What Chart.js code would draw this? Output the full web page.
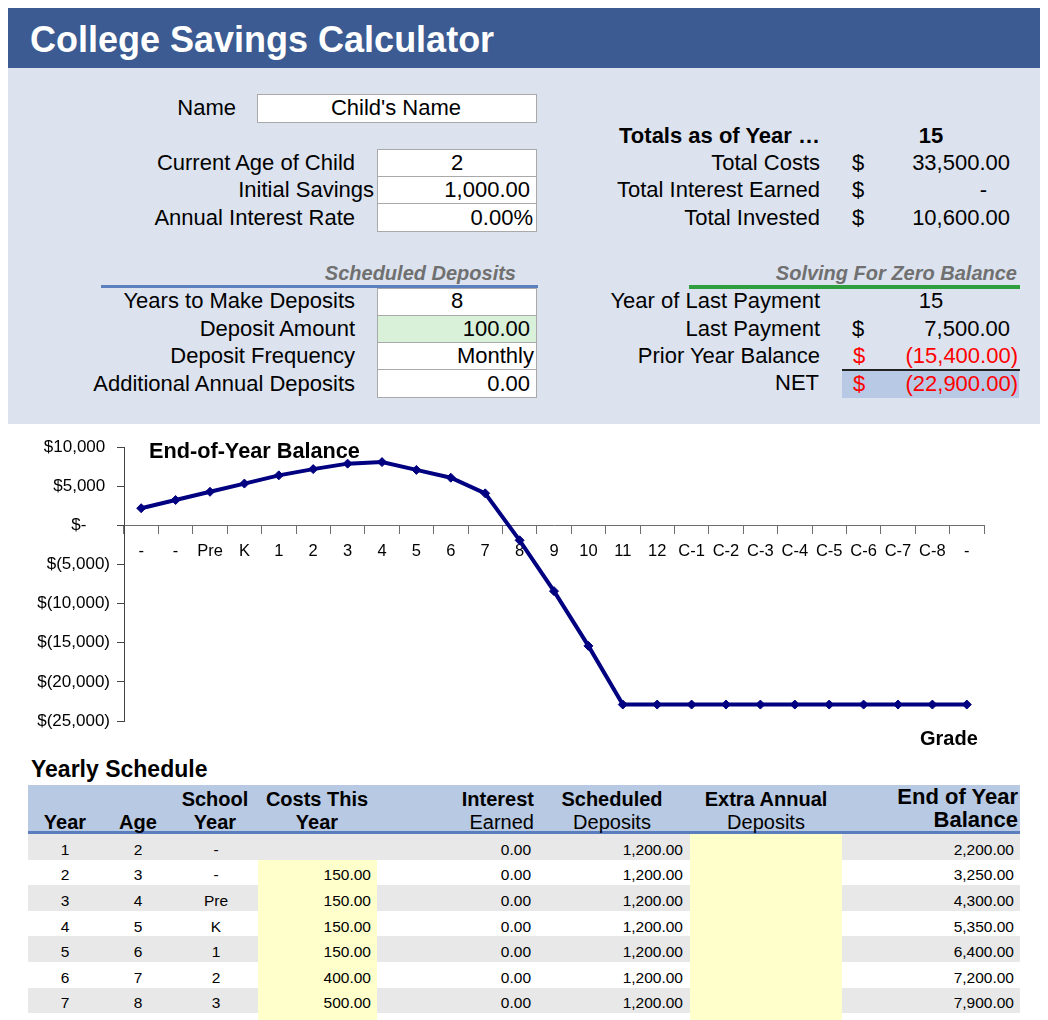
<!DOCTYPE html>
<html><head><meta charset="utf-8">
<title>College Savings Calculator</title>
<script src="https://cdn.jsdelivr.net/npm/chart.js@4.4.1/dist/chart.umd.min.js"></script>
<style>
html,body{margin:0;padding:0;background:#fff;}
body{width:1048px;height:1020px;overflow:hidden;position:relative;font-family:"Liberation Sans",Arial,Helvetica,sans-serif;color:#000;}
.abs{position:absolute;}
.t{position:absolute;white-space:nowrap;}
#chartWrap{position:absolute;left:0;top:430px;width:1048px;height:320px;}
</style></head><body>
<div id="chartWrap"><canvas id="c" width="1048" height="320"></canvas></div>
<script>
// ---- chart data ----
const grades = ["-","-","Pre","K","1","2","3","4","5","6","7","8","9","10","11","12","C-1","C-2","C-3","C-4","C-5","C-6","C-7","C-8","-"];
const endBalance = [2200,3250,4300,5350,6400,7200,7900,8100,7100,6100,4100,-1900,-8400,-15400,-22900,-22900,-22900,-22900,-22900,-22900,-22900,-22900,-22900,-22900,-22900];
const yMin = -25000, yMax = 10000, yStep = 5000;

// ---- yearly schedule table data ----
const schedYear = [1,2,3,4,5,6,7];
const schedAge = [2,3,4,5,6,7,8];
const schedSchool = ["-","-","Pre","K","1","2","3"];
const schedCosts = [null,150,150,150,150,400,500];
const schedInterest = [0,0,0,0,0,0,0];
const schedDeposits = [1200,1200,1200,1200,1200,1200,1200];
const schedBalance = [2200,3250,4300,5350,6400,7200,7900];

const FONT = '"Liberation Sans", Arial, Helvetica, sans-serif';
const fmt0 = v => v.toLocaleString('en-US');
const fmt2 = v => v.toLocaleString('en-US',{minimumFractionDigits:2,maximumFractionDigits:2});

function R(x,y,w,h,bg,border){
  const d=document.createElement('div');d.className='abs';
  Object.assign(d.style,{left:x+'px',top:y+'px',width:w+'px',height:h+'px',background:bg||'transparent',boxSizing:'border-box'});
  if(border) d.style.border='1px solid '+border;
  document.body.appendChild(d);
}
function T(x,y,s,o){
  o=o||{};const size=o.size||22;const lh=Math.round(size*1.25);const w=700;
  const d=document.createElement('div');d.className='t';d.textContent=s;
  let left=x;
  if(o.a==='r'){left=x-w;d.style.textAlign='right';d.style.width=w+'px';}
  else if(o.a==='c'){left=x-w/2;d.style.textAlign='center';d.style.width=w+'px';}
  Object.assign(d.style,{left:left+'px',top:(y-lh/2)+'px',lineHeight:lh+'px',fontSize:size+'px',
    fontWeight:o.b?'bold':'normal',fontStyle:o.i?'italic':'normal',color:o.c||'#000'});
  document.body.appendChild(d);
}

// ---- header and input panel ----
R(8,8,1032,60,'#3B5B92');
R(8,68,1032,356,'#DCE3EF');
T(30,39,'College Savings Calculator',{size:36,b:true,c:'#fff'});

const BOX='#A9A9A9';
R(257,94,280,29,'#fff',BOX);
T(236,108,'Name',{a:'r'}); T(396,108,"Child's Name",{a:'c'});

R(377,149,160,28,'#fff',BOX);R(377,176,160,28,'#fff',BOX);R(377,203,160,29,'#fff',BOX);
T(355,163,'Current Age of Child',{a:'r'}); T(457,163,'2',{a:'c'});
T(374,190,'Initial Savings',{a:'r'}); T(530,190,'1,000.00',{a:'r'});
T(355,218,'Annual Interest Rate',{a:'r'}); T(533,218,'0.00%',{a:'r'});

T(820,136,'Totals as of Year \u2026',{a:'r',b:true}); T(931,136,'15',{a:'c',b:true});
T(820,163,'Total Costs',{a:'r'}); T(858,163,'$',{a:'c'}); T(1010,163,'33,500.00',{a:'r'});
T(820,190,'Total Interest Earned',{a:'r'}); T(858,190,'$',{a:'c'}); T(987,190,'-',{a:'r'});
T(820,218,'Total Invested',{a:'r'}); T(858,218,'$',{a:'c'}); T(1010,218,'10,600.00',{a:'r'});

T(516,273,'Scheduled Deposits',{a:'r',b:true,i:true,c:'#707070',size:20});
R(101,285,437,3,'#5B7FBF');
R(377,288,160,28,'#fff',BOX);R(377,315,160,28,'#D8F1D8',BOX);R(377,342,160,28,'#fff',BOX);R(377,369,160,29,'#fff',BOX);
T(355,301,'Years to Make Deposits',{a:'r'}); T(457,301,'8',{a:'c'});
T(355,329,'Deposit Amount',{a:'r'}); T(530,329,'100.00',{a:'r'});
T(355,356,'Deposit Frequency',{a:'r'}); T(534,356,'Monthly',{a:'r'});
T(355,384,'Additional Annual Deposits',{a:'r'}); T(530,384,'0.00',{a:'r'});

T(1017,273,'Solving For Zero Balance',{a:'r',b:true,i:true,c:'#707070',size:20});
R(689,285,331,4,'#2E9E3E');
T(820,301,'Year of Last Payment',{a:'r'}); T(931,301,'15',{a:'c'});
T(820,329,'Last Payment',{a:'r'}); T(858,329,'$',{a:'c'}); T(1010,329,'7,500.00',{a:'r'});
T(820,356,'Prior Year Balance',{a:'r'}); T(859,356,'$',{a:'c',c:'#FF0000'}); T(1018,356,'(15,400.00)',{a:'r',c:'#FF0000'});
R(842,369,178,2,'#222');
R(842,371,177,27,'#B8C9E6');
T(819,383,'NET',{a:'r'}); T(859,384,'$',{a:'c',c:'#FF0000'}); T(1018,384,'(22,900.00)',{a:'r',c:'#FF0000'});

// ---- yearly schedule ----
T(31,769,'Yearly Schedule',{b:true,size:23});
R(28,785,992,47,'#B8C9E3');
R(28,831,992,3,'#5A7DBE');
const rowH=25.6, row0=834;
for(let i=0;i<8;i++){ if(i%2===0) R(28,row0+i*rowH,992,rowH,'#E8E8E8'); }
R(258,row0+rowH,119,1020-(row0+rowH),'#FFFFCC');
R(690,row0,152,1020-row0,'#FFFFCC');
const H1=799,H2=822;
T(65,H2,'Year',{a:'c',b:true,size:20});
T(138,H2,'Age',{a:'c',b:true,size:20});
T(215,H1,'School',{a:'c',b:true,size:20}); T(215,H2,'Year',{a:'c',b:true,size:20});
T(317,H1,'Costs This',{a:'c',b:true,size:20}); T(317,H2,'Year',{a:'c',b:true,size:20});
T(534,H1,'Interest',{a:'r',b:true,size:20}); T(534,H2,'Earned',{a:'r',size:20});
T(612,H1,'Scheduled',{a:'c',b:true,size:20}); T(612,H2,'Deposits',{a:'c',size:20});
T(766,H1,'Extra Annual',{a:'c',b:true,size:20}); T(766,H2,'Deposits',{a:'c',size:20});
T(1018,797,'End of Year',{a:'r',b:true,size:22}); T(1018,820,'Balance',{a:'r',b:true,size:22});
for(let i=0;i<schedYear.length;i++){
  const y=row0+i*rowH+rowH/2+2.5;
  const s={size:15.5};
  T(65,y,String(schedYear[i]),Object.assign({a:'c'},s));
  T(138,y,String(schedAge[i]),Object.assign({a:'c'},s));
  T(216,y,schedSchool[i],Object.assign({a:'c'},s));
  if(schedCosts[i]!==null) T(371,y,fmt2(schedCosts[i]),Object.assign({a:'r'},s));
  T(531,y,fmt2(schedInterest[i]),Object.assign({a:'r'},s));
  T(683,y,fmt2(schedDeposits[i]),Object.assign({a:'r'},s));
  T(1014,y,fmt2(schedBalance[i]),Object.assign({a:'r'},s));
}

// ---- chart ----
const yLabel = v => v>0 ? '$'+fmt0(v)+' ' : (v<0 ? '$('+fmt0(-v)+')' : '$-     ');
new Chart(document.getElementById('c'),{
  type:'line',
  data:{labels:grades,datasets:[{data:endBalance,borderColor:'#000080',backgroundColor:'#000080',borderWidth:4,
    pointStyle:'rectRot',pointRadius:4.5,pointBackgroundColor:'#000080',pointBorderColor:'#000080',pointBorderWidth:1,tension:0,clip:false}]},
  options:{
    responsive:false,animation:false,devicePixelRatio:1,
    layout:{padding:{top:17,bottom:29,left:0,right:64}},
    plugins:{legend:{display:false},tooltip:{enabled:false},title:{display:false}},
    scales:{
      x:{type:'category',offset:true,position:{y:0},
        grid:{drawOnChartArea:false,offset:true,drawTicks:true,tickLength:8,color:'#6E6E6E',lineWidth:1},
        border:{display:true,color:'#6E6E6E',width:1},
        ticks:{color:'#000',font:{size:16.5,family:FONT},padding:8,maxRotation:0,minRotation:0,autoSkip:false},
        afterFit:s=>{s.height=0;}},
      y:{min:yMin,max:yMax,
        ticks:{stepSize:yStep,callback:yLabel,color:'#000',font:{size:17,family:FONT},padding:7},
        grid:{drawOnChartArea:false,drawTicks:true,tickLength:7,color:'#444',lineWidth:1},
        border:{display:true,color:'#444',width:1},
        afterFit:s=>{s.width=124;}}
    }
  }
});
T(149,450,'End-of-Year Balance',{b:true,size:21.7});
T(920,738,'Grade',{b:true,size:20});
</script>
</body></html>
